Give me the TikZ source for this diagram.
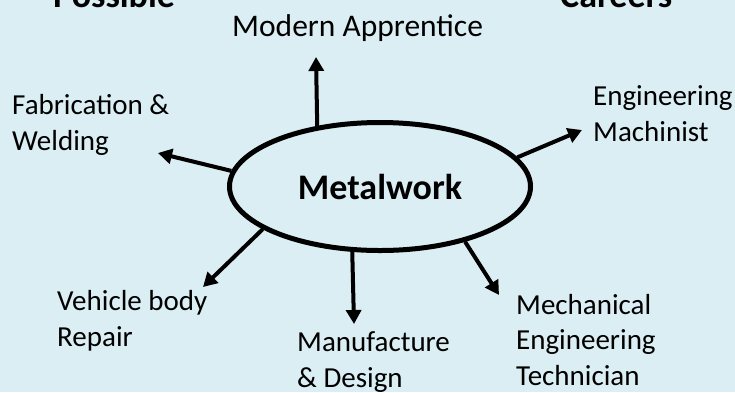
\documentclass[tikz,border=0pt]{standalone}
\usepackage{fontspec}
\setmainfont{Carlito}
\usetikzlibrary{arrows.meta,shapes.geometric}
\definecolor{bgblue}{HTML}{DBEEF4}
\tikzset{
  label/.style={anchor=base west, inner sep=0pt, align=left, font=\fontsize{29}{35.4}\selectfont},
  title/.style={anchor=base west, inner sep=0pt, font=\fontsize{36}{43}\selectfont\bfseries},
  hub/.style={ellipse, draw, line width=5pt, minimum width=301pt, minimum height=128pt, inner sep=0pt, font=\fontsize{36}{43}\selectfont\bfseries},
  conn/.style={line width=4pt, -{Triangle[length=14pt,width=15pt]}}
}
\begin{document}
\begin{tikzpicture}[x=1pt,y=-1pt]
\fill[bgblue] (0,0) rectangle (735,392);
\useasboundingbox (0,0) rectangle (735,392);
\node[title] (possible) at (53,7) {Possible};
\node[title] (careers) at (560,7) {Careers};
\node[hub] (m) at (380,186.5) {Metalwork};
\node[label, font=\fontsize{31.5}{38}\selectfont] (ma) at (232,36) {Modern Apprentice};
\node[label] (fw) at (12,150) {Fabrication \&\\Welding};
\node[label] (em) at (593,141) {Engineering\\Machinist};
\node[label] (vb) at (57,346) {Vehicle body\\Repair};
\node[label] (md) at (297,387) {Manufacture\\\& Design};
\node[label] (me) at (516,385) {Mechanical\\Engineering\\Technician};
\coordinate (tma) at (316,57);
\coordinate (tfw) at (158,153);
\coordinate (tem) at (582,130);
\coordinate (tvb) at (203,287);
\coordinate (tmd) at (354,324);
\coordinate (tme) at (499,295);
\draw[conn] (m.136.7) -- (tma);
\draw[conn] (m.174.8) -- (tfw);
\draw[conn] (m.12.9) -- (tem);
\draw[conn] (m.200.7) -- (tvb);
\draw[conn] (m.247.9) -- (tmd);
\draw[conn] (m.327.5) -- (tme);
\end{tikzpicture}
\end{document}
